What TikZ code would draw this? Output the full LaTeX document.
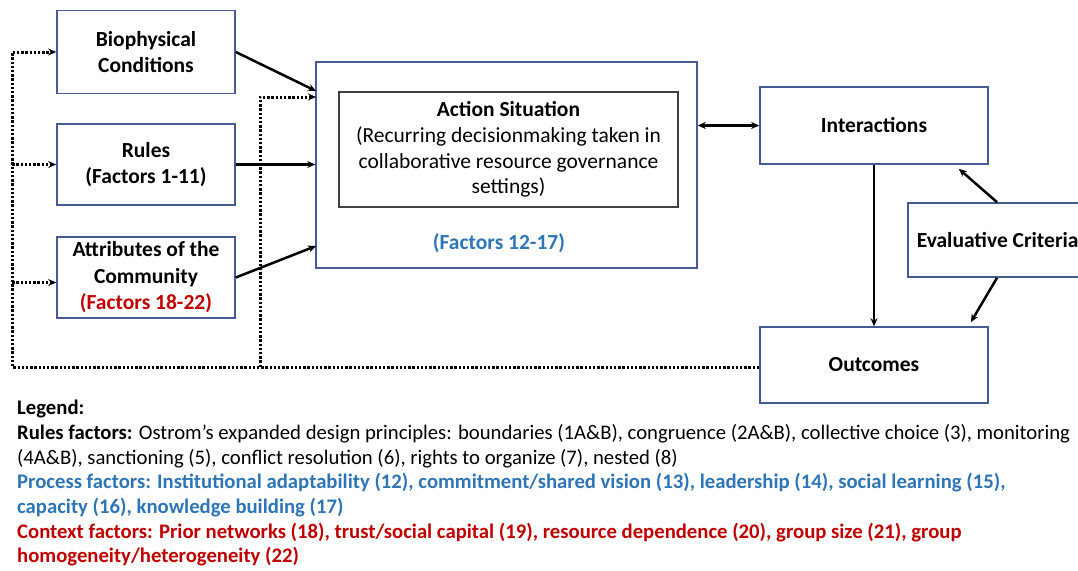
\documentclass[tikz,border=0pt]{standalone}
\usepackage{fontspec}
\setmainfont{Carlito}
\usepackage{tikz}
\usetikzlibrary{arrows.meta}
\definecolor{boxline}{RGB}{72,90,148}
\definecolor{pblue}{RGB}{46,117,182}
\definecolor{cred}{RGB}{192,0,0}

\begin{document}
\begin{tikzpicture}[x=1pt,y=-1pt,>={Stealth[length=8pt,width=7pt]},
    box/.style={draw=boxline,line width=1.6pt,align=center,inner sep=2pt,
      font=\fontsize{21.5}{26.5}\selectfont\bfseries},
    solidarrow/.style={line width=2.5pt,->},
    fb/.style={line width=3pt,dash pattern=on 2.4pt off 1.8pt,->}]
        \useasboundingbox (0,0) rectangle (1078,570);
        \clip (0,0) rectangle (1078,570);
        % Left boxes
        \node[box,minimum width=178pt,minimum height=83pt] (bio) at (146,52) {Biophysical\\Conditions};
        \node[box,minimum width=178pt,minimum height=81pt] (rules) at (146,164.5) {Rules\\(Factors 1-11)};
        \node[box,minimum width=178pt,minimum height=81pt] (attr) at (146,277.5) {Attributes of the\\Community\\\textcolor{cred}{(Factors 18-22)}};
        % Action situation
        \node[box,minimum width=381pt,minimum height=206pt] (action) at (506.5,165) {};
        \node[draw=black!75,line width=1.6pt,minimum width=339pt,minimum height=115pt,align=center,inner sep=2pt,
          font=\fontsize{21.5}{25.7}\selectfont] (inner) at (508.5,149.5)
          {\textbf{Action Situation}\\(Recurring decisionmaking taken in\\collaborative resource governance\\settings)};
        \node[font=\fontsize{21.5}{26}\selectfont\bfseries,text=pblue] (f1217) at (499,243) {(Factors 12-17)};
        % Right boxes
        \node[box,minimum width=228pt,minimum height=77pt] (inter) at (874,125.5) {Interactions};
        \node[box,minimum width=228pt,minimum height=76pt] (outc) at (874,365) {Outcomes};
        \node[box,anchor=west,minimum height=74pt,inner xsep=9pt] (eval) at (907,240) {Evaluative Criteria};
        % Arrows into the action situation
        \coordinate (a1) at (316,91);
        \coordinate (a2) at (316,97);
        \coordinate (a3) at (316,246);
        \coordinate (br) at (260,367);
        \draw[solidarrow] (bio.east) -- (a1);
        \draw[solidarrow] (rules.east) -- (action.west |- rules.east);
        \draw[solidarrow] (attr.east) -- (a3);
        \draw[line width=2.5pt,<->] (action.east |- inter.west) -- (inter.west);
        \draw[solidarrow] (inter.south) -- (outc.north);
        \draw[solidarrow] ([xshift=90pt]eval.north west) -- ([xshift=-30pt,yshift=-4pt]inter.south east);
        \draw[solidarrow] ([xshift=90pt]eval.south west) -- ([xshift=-18pt,yshift=4pt]outc.north east);
        % Feedback (dotted)
        \draw[fb] (outc.west |- br) -| ([xshift=-44pt]bio.west) -- (bio.west);
        \draw[fb] ([xshift=-44pt]rules.west) -- (rules.west);
        \draw[fb] ([xshift=-44pt,yshift=-5pt]attr.west) -- ([yshift=-5pt]attr.west);
        \draw[fb] (br) |- (a2);
        % Legend
        \node[anchor=north west,align=left,inner sep=0pt,font=\fontsize{20.7}{24.7}\selectfont] (legend) at (17,400)
          {\textbf{Legend:}\\
           \textbf{Rules factors:} Ostrom’s expanded design principles: boundaries (1A\&B), congruence (2A\&B), collective choice (3), monitoring\\
           (4A\&B), sanctioning (5), conflict resolution (6), rights to organize (7), nested (8)\\
           \textcolor{pblue}{\textbf{Process factors: Institutional adaptability (12), commitment/shared vision (13), leadership (14), social learning (15),}}\\
           \textcolor{pblue}{\textbf{capacity (16), knowledge building (17)}}\\
           \textcolor{cred}{\textbf{Context factors: Prior networks (18), trust/social capital (19), resource dependence (20), group size (21), group}}\\
           \textcolor{cred}{\textbf{homogeneity/heterogeneity (22)}}};
    \end{tikzpicture}
\end{document}
